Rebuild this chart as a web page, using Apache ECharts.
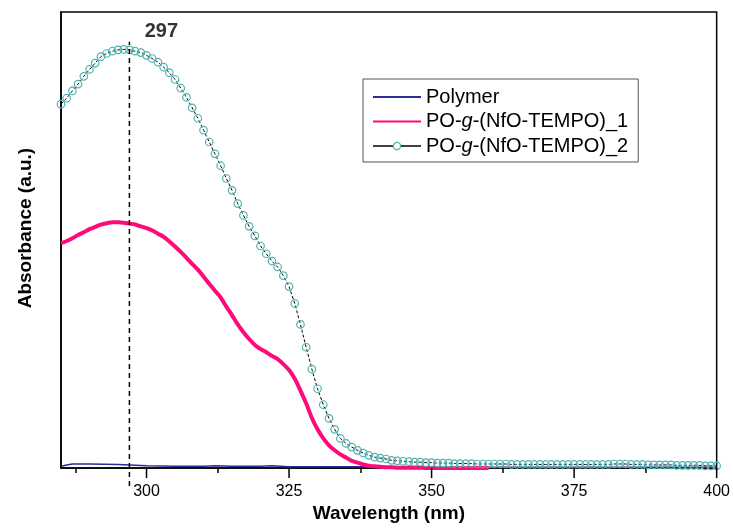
<!DOCTYPE html>
<html>
<head>
<meta charset="utf-8">
<script src="https://cdn.jsdelivr.net/npm/echarts@6/dist/echarts.min.js"></script>
<style>
  html, body { margin: 0; padding: 0; background: #fff; }
  #chart { width: 733px; height: 528px; }
</style>
</head>
<body>
<div id="chart"></div>
<script>
// UV-Vis absorbance spectra, 285-400 nm (arbitrary units)
const FONT = 'Arial, "Liberation Sans", sans-serif';

const seriesNames = ['Polymer', 'PO-g-(NfO-TEMPO)_1', 'PO-g-(NfO-TEMPO)_2'];

// Wavelength grid (nm), 1 nm steps
const waveNm = [
  285, 286, 287, 288, 289, 290, 291, 292, 293, 294,
  295, 296, 297, 298, 299, 300, 301, 302, 303, 304,
  305, 306, 307, 308, 309, 310, 311, 312, 313, 314,
  315, 316, 317, 318, 319, 320, 321, 322, 323, 324,
  325, 326, 327, 328, 329, 330, 331, 332, 333, 334,
  335, 336, 337, 338, 339, 340, 341, 342, 343, 344,
  345, 346, 347, 348, 349, 350, 351, 352, 353, 354,
  355, 356, 357, 358, 359, 360, 361, 362, 363, 364,
  365, 366, 367, 368, 369, 370, 371, 372, 373, 374,
  375, 376, 377, 378, 379, 380, 381, 382, 383, 384,
  385, 386, 387, 388, 389, 390, 391, 392, 393, 394,
  395, 396, 397, 398, 399, 400
];

// PO-g-(NfO-TEMPO)_2, open circles, 285-400 nm
const absSample2 = [
  0.798, 0.811, 0.827, 0.842, 0.859, 0.874, 0.888, 0.902, 0.909, 0.914,
  0.917, 0.918, 0.917, 0.914, 0.911, 0.905, 0.898, 0.890, 0.879, 0.867,
  0.852, 0.833, 0.813, 0.790, 0.767, 0.741, 0.715, 0.689, 0.663, 0.635,
  0.609, 0.580, 0.554, 0.530, 0.509, 0.487, 0.470, 0.454, 0.441, 0.422,
  0.398, 0.361, 0.315, 0.265, 0.217, 0.174, 0.139, 0.109, 0.085, 0.065,
  0.054, 0.046, 0.039, 0.033, 0.028, 0.024, 0.022, 0.020, 0.017, 0.016,
  0.015, 0.014, 0.013, 0.013, 0.012, 0.012, 0.011, 0.011, 0.011, 0.010,
  0.010, 0.010, 0.010, 0.009, 0.009, 0.009, 0.009, 0.009, 0.009, 0.008,
  0.008, 0.008, 0.008, 0.008, 0.008, 0.008, 0.008, 0.008, 0.008, 0.008,
  0.008, 0.008, 0.008, 0.008, 0.008, 0.008, 0.008, 0.009, 0.009, 0.009,
  0.008, 0.008, 0.008, 0.007, 0.007, 0.007, 0.007, 0.007, 0.006, 0.006,
  0.006, 0.006, 0.006, 0.005, 0.005, 0.005
];

// PO-g-(NfO-TEMPO)_1, 285-360 nm
const absSample1 = [
  0.493, 0.498, 0.504, 0.511, 0.517, 0.524, 0.529, 0.534, 0.537, 0.539,
  0.539, 0.538, 0.536, 0.534, 0.530, 0.526, 0.521, 0.514, 0.507, 0.497,
  0.486, 0.474, 0.461, 0.448, 0.435, 0.420, 0.404, 0.389, 0.374, 0.354,
  0.335, 0.315, 0.298, 0.283, 0.270, 0.261, 0.254, 0.246, 0.239, 0.228,
  0.215, 0.196, 0.170, 0.142, 0.110, 0.085, 0.065, 0.050, 0.039, 0.030,
  0.023, 0.016, 0.012, 0.008, 0.005, 0.004, 0.003, 0.002, 0.002, 0.001,
  0.001, 0.001, 0.001, 0.001, 0.000, 0.000, 0.000, 0.000, 0.000, 0.000,
  0.000, 0.000, 0.000, 0.000, 0.000, 0.000
];

// Polymer baseline
const polymerNm  = [285, 286, 287, 290, 295, 297, 300, 305, 310, 312, 315, 320, 322, 325, 330, 335, 340, 350, 360, 370, 380, 390, 400];
const polymerAbs = [0.004, 0.007, 0.009, 0.009, 0.008, 0.007, 0.005, 0.004, 0.004, 0.005, 0.004, 0.004, 0.005, 0.003, 0.003, 0.003, 0.003, 0.003, 0.002, 0.002, 0.002, 0.002, 0.002];

// Absorption maximum marker
const peakNm = 297;
const peakLineSpan = [-0.039, 0.935];

// Axis ticks
const majorTicks = [300, 325, 350, 375, 400];
const minorTicks = [287.5, 312.5, 337.5, 362.5, 387.5];

const pairs = (xs, ys) => ys.map((y, i) => [xs[i], y]);

const chart = echarts.init(document.getElementById('chart'), null, { renderer: 'canvas' });

const legendText = {
  fontFamily: FONT, fontSize: 20, color: '#000', lineHeight: 20,
  rich: { it: { fontFamily: FONT, fontSize: 20, fontStyle: 'italic', color: '#000', lineHeight: 20 } }
};

chart.setOption({
  animation: false,
  backgroundColor: '#fff',
  textStyle: { fontFamily: FONT },
  grid: {
    left: 61, right: 15, top: 12, bottom: 56,
    show: true, borderColor: '#000', borderWidth: 1.5, backgroundColor: 'transparent'
  },
  legend: {
    data: [
      { name: seriesNames[0], itemStyle: { color: 'rgba(0,0,0,0)', borderWidth: 0, opacity: 0 } },
      { name: seriesNames[1], itemStyle: { color: 'rgba(0,0,0,0)', borderWidth: 0, opacity: 0 } },
      { name: seriesNames[2], lineStyle: { type: 'solid', color: '#000', width: 1.3, opacity: 1 }, itemStyle: { color: '#fff', borderColor: '#4fb3ae', borderWidth: 1.2 } }
    ],
    orient: 'vertical',
    left: 363, top: 79,
    padding: [8, 10, 6, 9],
    itemGap: 4.5,
    itemWidth: 48,
    itemHeight: 9,
    borderColor: '#555',
    borderWidth: 1,
    backgroundColor: '#fff',
    textStyle: legendText,
    formatter: name => name.replace('-g-', '-{it|g}-')
  },
  xAxis: {
    type: 'value', min: 285, max: 400, position: 'bottom',
    name: 'Wavelength (nm)', nameLocation: 'middle', nameGap: 34,
    nameTextStyle: { fontFamily: FONT, fontSize: 19, fontWeight: 'bold', color: '#000' },
    axisLine: { show: true, lineStyle: { color: '#000', width: 1.5 } },
    axisTick: { show: true, inside: false, length: 5, customValues: minorTicks, lineStyle: { color: '#000', width: 1.5 } },
    axisLabel: { show: true, customValues: majorTicks, margin: 15, fontFamily: FONT, fontSize: 16, color: '#000' },
    splitLine: { show: false }
  },
  yAxis: {
    type: 'value', min: 0, max: 1,
    name: 'Absorbance (a.u.)', nameLocation: 'middle', nameGap: 26,
    nameTextStyle: { fontFamily: FONT, fontSize: 19, fontWeight: 'bold', color: '#000', padding: [0, 0, 0, 24] },
    axisLine: { show: true, lineStyle: { color: '#000', width: 1.5 } },
    axisTick: { show: false },
    axisLabel: { show: false },
    splitLine: { show: false }
  },
  series: [
    {
      name: seriesNames[0], type: 'line', data: pairs(polymerNm, polymerAbs),
      symbol: 'none', smooth: false,
      lineStyle: { color: '#2b2b9e', width: 1.5 },
      itemStyle: { color: '#2b2b9e' },
      z: 2
    },
    {
      name: seriesNames[1], type: 'line', data: pairs(waveNm, absSample1),
      symbol: 'none', smooth: 0.3,
      lineStyle: { color: '#ff0a7a', width: 4 },
      itemStyle: { color: '#ff0a7a' },
      z: 3
    },
    {
      name: seriesNames[2], type: 'line', data: pairs(waveNm, absSample2),
      symbol: 'circle', symbolSize: 7.5, showSymbol: true,
      lineStyle: { color: '#000', width: 1, type: [3, 2] },
      itemStyle: { color: 'rgba(255,255,255,0)', borderColor: '#4fb3ae', borderWidth: 1.2 },
      z: 4
    },
    {
      name: 'peak', type: 'line', clip: false,
      data: peakLineSpan.map(v => [peakNm, v]),
      symbol: 'none',
      lineStyle: { color: '#000', width: 1.5, type: [5, 4] },
      z: 6, silent: true
    },
    {
      name: 'peakLabel', type: 'scatter', clip: false,
      data: [[peakNm, peakLineSpan[1]]],
      symbolSize: 1, itemStyle: { color: 'rgba(0,0,0,0)' },
      label: {
        show: true, position: 'top', distance: 0, offset: [32, 0],
        formatter: p => String(p.value[0]),
        fontFamily: FONT, fontSize: 20, fontWeight: 'bold', color: '#000'
      },
      z: 7, silent: true
    },
    {
      // major x-axis ticks, drawn outward from the axis line
      name: 'majorTicks', type: 'custom', clip: false, silent: true, z: 100,
      data: majorTicks.map(v => [v, 0]),
      encode: { x: 0, y: 1 },
      renderItem: (params, api) => {
        const p = api.coord([api.value(0), api.value(1)]);
        return {
          type: 'rect',
          shape: { x: p[0] - 0.75, y: p[1], width: 1.5, height: 10 },
          style: { fill: '#000' }
        };
      }
    }
  ]
});
</script>
</body>
</html>
